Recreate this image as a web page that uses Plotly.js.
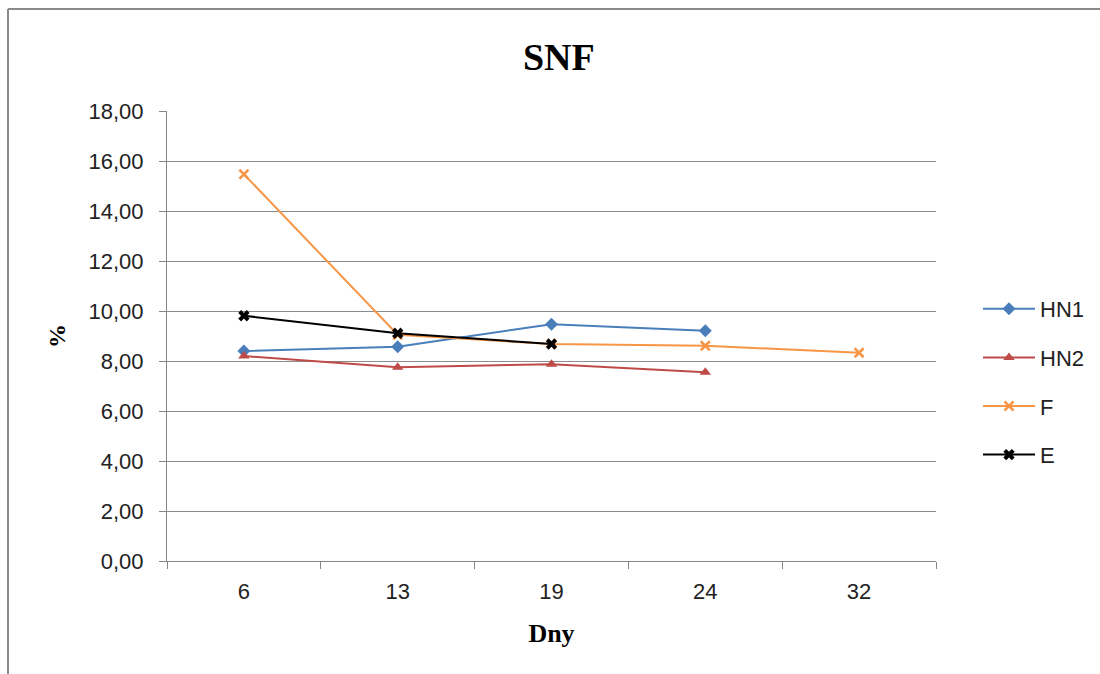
<!DOCTYPE html>
<html>
<head>
<meta charset="utf-8">
<script src="https://cdn.plot.ly/plotly-3.0.1.min.js"></script>
<style>html,body{margin:0;padding:0;background:#fff;}#chart{width:1100px;height:674px;}</style>
</head>
<body>
<div id="chart"></div>
<script>
const days = ['6', '13', '19', '24', '32'];
const hn1 = [8.40, 8.57, 9.47, 9.21, null];
const hn2 = [8.20, 7.75, 7.87, 7.55, null];
const f = [15.47, 9.05, 8.68, 8.61, 8.33];
const e = [9.81, 9.11, 8.68, null, null];
const yTicks = [0, 2, 4, 6, 8, 10, 12, 14, 16, 18];

const W = 1100, H = 674, L = 167, R = 936, T = 111, B = 561;
const px = x => (x - L) / (R - L);
const py = y => (B - y) / (B - T);

const traces = [
  {name: 'HN1', y: hn1, color: '#4a7ebb', symbol: 'diamond', size: 10},
  {name: 'HN2', y: hn2, color: '#be4b48', symbol: 'triangle-up', size: 10},
  {name: 'F', y: f, color: '#f79646', symbol: 'x-thin-open', size: 9, lw: 2.5},
  {name: 'E', y: e, color: '#000000', symbol: 'x', size: 10}
].map(t => ({
  type: 'scatter', mode: 'lines+markers', x: days, y: t.y, name: t.name,
  legendgroup: t.name,
  connectgaps: false,
  line: {color: t.color, width: 2},
  marker: {symbol: t.symbol, size: t.size, color: t.color, line: {color: t.color, width: t.lw || 0}}
}));

const layout = {
  width: W, height: H,
  margin: {l: L, r: W - R, t: T, b: H - B, autoexpand: false},
  paper_bgcolor: '#fff', plot_bgcolor: '#fff',
  separators: ', ',
  showlegend: true,
  title: {text: 'SNF', font: {family: 'Liberation Serif', size: 38, color: '#000', weight: 'bold'},
          x: 0.508, xanchor: 'center', y: 1 - 57 / H, yanchor: 'middle', xref: 'container', yref: 'container'},
  xaxis: {
    type: 'category', range: [-0.5, 4.5],
    showline: true, linecolor: '#868686', linewidth: 1,
    ticks: 'outside', tickson: 'boundaries', ticklen: 7, tickcolor: '#868686',
    showgrid: false, zeroline: false,
    tickfont: {family: 'Liberation Sans', size: 22, color: '#222'},
    ticklabelstandoff: 11,
    title: {text: 'Dny', font: {family: 'Liberation Serif', size: 26, color: '#000', weight: 'bold'}, standoff: 20}
  },
  yaxis: {
    range: [0, 18], tickvals: yTicks, tickformat: '.2f',
    showline: true, linecolor: '#868686', linewidth: 1,
    ticks: 'outside', ticklen: 7, tickcolor: '#868686',
    showgrid: true, gridcolor: '#8c8c8c', gridwidth: 1, zeroline: false,
    tickfont: {family: 'Liberation Sans', size: 22, color: '#222'},
    ticklabelstandoff: 11,
    title: {text: '%', font: {family: 'Liberation Serif', size: 24, color: '#000', weight: 'bold'}, standoff: 16}
  },
  legend: {
    x: px(978), xanchor: 'left', y: py(382), yanchor: 'middle',
    font: {family: 'Liberation Sans', size: 22, color: '#222'},
    itemwidth: 52,
    tracegroupgap: 17, traceorder: 'grouped', bgcolor: 'rgba(0,0,0,0)'
  },
  shapes: [
    {type: 'line', xref: 'paper', yref: 'paper', x0: px(8), x1: px(8), y0: py(9), y1: py(H + 5), line: {color: '#8a8a8a', width: 2}},
    {type: 'line', xref: 'paper', yref: 'paper', x0: px(8), x1: px(W + 5), y0: py(9), y1: py(9), line: {color: '#8a8a8a', width: 2}}
  ]
};

Plotly.newPlot('chart', traces, layout, {displayModeBar: false, staticPlot: true});
</script>
</body>
</html>
